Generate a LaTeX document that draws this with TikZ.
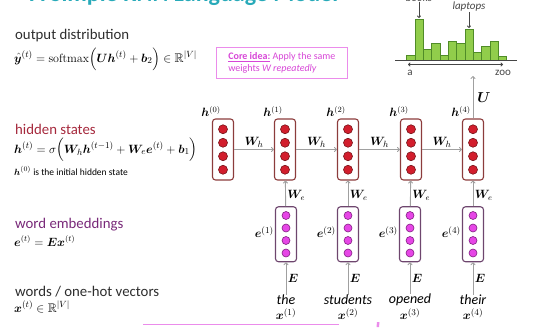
\documentclass[tikz,border=0pt]{standalone}
\usepackage{amsmath,amssymb,bm}
\usepackage[no-math]{fontspec}
\newfontfamily\calibri{Carlito}
\usetikzlibrary{arrows.meta,calc}
\definecolor{titlecol}{RGB}{40,170,185}
\definecolor{hidcol}{RGB}{165,40,60}
\definecolor{embcol}{RGB}{120,40,120}
\definecolor{hboxc}{RGB}{140,60,60}
\definecolor{hfill}{RGB}{210,30,45}
\definecolor{hdot}{RGB}{120,20,25}
\definecolor{eboxc}{RGB}{110,70,110}
\definecolor{efill}{RGB}{230,70,230}
\definecolor{edot}{RGB}{130,30,130}
\definecolor{arr}{RGB}{160,160,160}
\definecolor{pinkc}{RGB}{215,70,215}
\definecolor{pinkb}{RGB}{235,140,235}
\definecolor{barfill}{RGB}{145,205,75}
\definecolor{baredge}{RGB}{80,140,40}
\definecolor{txt}{RGB}{45,45,45}
\definecolor{histc}{RGB}{70,70,70}
\tikzset{
  hbx/.style={draw=hboxc, line width=1.1pt, rounded corners=3pt, minimum width=21pt, minimum height=61pt, inner sep=0pt},
  ebx/.style={draw=eboxc, line width=1.1pt, rounded corners=3pt, minimum width=21pt, minimum height=55pt, inner sep=0pt},
  hdt/.style={circle, fill=hfill, draw=hdot, line width=0.6pt, minimum size=9pt, inner sep=0pt},
  edt/.style={circle, fill=efill, draw=edot, line width=0.6pt, minimum size=8pt, inner sep=0pt},
  conn/.style={draw=arr, line width=0.9pt, -{To[length=3pt,width=5pt]}},
  lbl/.style={font=\calibri\fontsize{14.8}{17}\selectfont, anchor=base west, inner sep=0pt},
  mth/.style={font=\fontsize{12}{14}\selectfont, anchor=west, inner sep=0pt},
  hlab/.style={font=\fontsize{12}{14}\selectfont, anchor=south east, inner sep=1pt},
  wlab/.style={font=\fontsize{13}{15}\selectfont, inner sep=1pt},
  elab/.style={font=\fontsize{12}{14}\selectfont, inner sep=1.5pt},
  word/.style={font=\calibri\itshape\fontsize{14}{16}\selectfont, inner sep=0pt},
  xlab/.style={font=\fontsize{12.5}{14}\selectfont, inner sep=0pt},
  histtxt/.style={font=\calibri\fontsize{11}{13}\selectfont, text=histc, inner sep=0pt},
  harr/.style={draw=histc, line width=0.8pt, -{To[length=2.5pt,width=4pt]}}
}
\begin{document}
\begin{tikzpicture}[x=1pt,y=-1pt]
\useasboundingbox (0,0) rectangle (551,327);
\begin{scope}
\clip (0,0) rectangle (551,327);
% title (cut off at top)
\node[anchor=base west, inner sep=0pt, font=\calibri\bfseries\fontsize{24}{28}\selectfont, text=titlecol] (title) at (30,1) {A Simple RNN Language Model};
\node[anchor=base, histtxt, font=\calibri\itshape\fontsize{11}{13}\selectfont] (books) at (419,1.5) {books};
\end{scope}

% left column
\node[lbl, text=txt] (l1) at (15,39) {output distribution};
\node[mth, font=\fontsize{12.6}{14}\selectfont] (f1) at (14,59) {$\hat{\bm y}^{(t)} = \mathrm{softmax}\Big(\bm U\bm h^{(t)}+\bm b_2\Big)\in\mathbb R^{|V|}$};
\node[lbl, text=hidcol] (l2) at (15,134) {hidden states};
\node[mth, font=\fontsize{13}{15}\selectfont] (f2) at (14,150) {$\bm h^{(t)} = \sigma\Big(\bm W_h \bm h^{(t-1)} + \bm W_e \bm e^{(t)} + \bm b_1\Big)$};
\node[mth, font=\calibri\fontsize{9.5}{11}\selectfont] (f3) at (14,171) {$\bm h^{(0)}$ is the initial hidden state};
\node[lbl, text=embcol] (l3) at (15,228) {word embeddings};
\node[mth] (f4) at (14,241) {$\bm e^{(t)} = \bm E \bm x^{(t)}$};
\node[lbl, text=txt] (l4) at (15,296) {words / one-hot vectors};
\node[mth, font=\fontsize{12.5}{14}\selectfont] (f5) at (14,307) {$\bm x^{(t)} \in \mathbb R^{|V|}$};

% core idea box
\node[draw=pinkb, line width=0.8pt, text=pinkc, align=left, anchor=north west, minimum width=131pt, minimum height=31pt, inner sep=3pt, font=\calibri\fontsize{10}{12.5}\selectfont] (core) at (216,47)
  {\underline{\textbf{Core idea:}} Apply the same\\ weights \textit{W repeatedly}};

% hidden states
\foreach \i/\x in {0/223,1/285,2/348,3/411,4/473}{
  \node[hbx] (h\i) at (\x,149.5) {};
  \foreach \j/\dy in {1/-20.25,2/-6.75,3/6.75,4/20.25}
    \node[hdt] (h\i c\j) at (\x,149.5+\dy) {};
  \node[hlab] (hl\i) at ([xshift=-1pt,yshift=0.5pt]h\i.north) {$\bm h^{(\i)}$};
}
% embeddings and words
\foreach \i/\x/\w in {1/286/the,2/348/students,3/410/opened,4/473/their}{
  \node[ebx] (e\i) at (\x,234.25) {};
  \foreach \j/\dy in {1/-18.75,2/-6.25,3/6.25,4/18.75}
    \node[edt] (e\i c\j) at (\x,234.25+\dy) {};
  \node[xlab, anchor=east] (el\i) at ([xshift=-1pt,yshift=2pt]e\i.west) {$\bm e^{(\i)}$};
  \node[word] (w\i) at (\x,300) {\w};
  \node[xlab] (x\i) at (\x,314) {$\bm x^{(\i)}$};
  \draw[conn] (w\i.north) -- (e\i) node[midway, right, elab] {$\bm E$};
  \draw[conn] (e\i) -- (h\i) node[midway, right, elab, yshift=-2pt] {$\bm W_e$};
}
\foreach \a/\b in {0/1,1/2,2/3,3/4}
  \draw[conn] (h\a) -- (h\b) node[midway, above, wlab, yshift=0.5pt] {$\bm W_h$};

% histogram
\coordinate (dist) at (473,76);
\draw[conn] (h4) -- (dist) node[midway, right, font=\fontsize{14}{16}\selectfont, inner sep=4pt] {$\bm U$};
\foreach \k/\t in {0/55,1/19,2/49.3,3/43.3,4/55,5/41.7,6/43.3,7/29.3,8/52.3,9/46.7,10/41.7,11/56.7}
  \draw[fill=barfill, draw=baredge, line width=0.7pt] (406.7+8.33*\k,60) rectangle (406.7+8.33*\k+8.33,\t);
\draw[histc, line width=1pt] (395,60) -- (517,60);
\draw[histc, line width=0.8pt, {To[length=2.5pt,width=4pt]}-{To[length=2.5pt,width=4pt]}] (408,64.5) -- (503,64.5);
\node[histtxt] (ha) at (410,73) {a};
\node[histtxt] (hz) at (503,73) {zoo};
\node[histtxt, font=\calibri\itshape\fontsize{11}{13}\selectfont] (lap) at (469,7) {laptops};
\coordinate (b2top) at (419,18);
\coordinate (b8top) at (469,28);
\draw[harr] (books.south) -- (b2top);
\draw[harr] (lap.south) -- (b8top);

% bottom pink line (cut off)
\draw[pinkb, line width=1.5pt] (143,324.5) -- (339,324.5);
\fill[pinkb] (377,322) -- (379.5,322) -- (379,327) -- (376.5,327) -- cycle;
\end{tikzpicture}
\end{document}
